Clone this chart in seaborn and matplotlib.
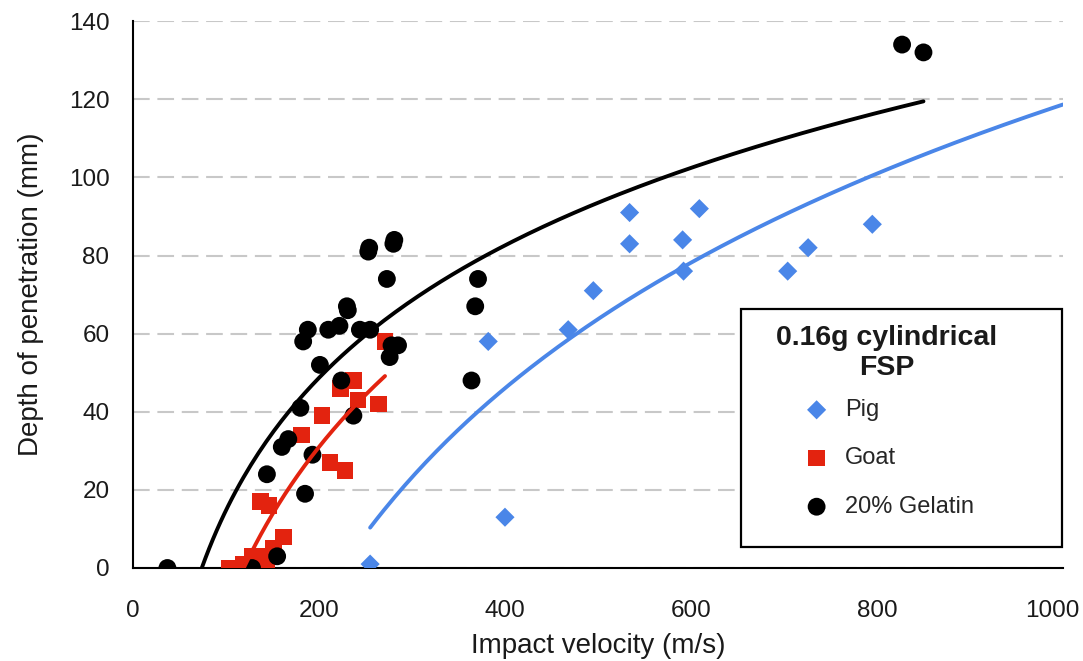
import matplotlib
matplotlib.use("Agg")
import matplotlib.pyplot as plt
import matplotlib.transforms as mtransforms
from matplotlib.patches import Rectangle
import numpy as np
import pandas as pd
import seaborn as sns


# impact velocity (m/s) and depth of penetration (mm)
PIG_V = [255, 400, 382, 468, 495, 534, 534, 591, 592, 609, 704, 726, 795]
PIG_D = [1, 13, 58, 61, 71, 91, 83, 84, 76, 92, 76, 82, 88]

GOAT_V = [104, 112, 119, 129, 128, 137, 144, 151, 162, 137, 146, 181, 203,
          212, 228, 223, 237, 242, 264, 271]
GOAT_D = [0, 0, 1, 1, 3, 3, 2, 5, 8, 17, 16, 34, 39, 27, 25, 46, 48, 43, 42, 58]

GEL_V = [37, 128, 155, 144, 160, 167, 180, 185, 193, 201, 183, 188, 210, 222,
         224, 230, 231, 244, 255, 253, 254, 280, 281, 273, 278, 285, 276, 237,
         371, 368, 364, 827, 850]
GEL_D = [0, 0, 3, 24, 31, 33, 41, 19, 29, 52, 58, 61, 61, 62, 48, 67, 66, 61,
         61, 81, 82, 83, 84, 74, 57, 57, 54, 39, 74, 67, 48, 134, 132]

SERIES = ["Pig", "Goat", "20% Gelatin"]
COLORS = {"Pig": "#4A86E8", "Goat": "#E3230F", "20% Gelatin": "#000000"}
MARKERS = {"Pig": "D", "Goat": "s", "20% Gelatin": "o"}
SIZES = {"Pig": 95, "Goat": 140, "20% Gelatin": 165}
# the pig trend line is extended forward to this velocity
TREND_END = {"Pig": 1000}

X_TICKS = [0, 200, 400, 600, 800, 1000]
Y_TICKS = [0, 20, 40, 60, 80, 100, 120, 140]
LEGEND_TITLE = "0.16g cylindrical\nFSP"


def main() -> None:
    df = pd.concat([
        pd.DataFrame({"v": PIG_V, "d": PIG_D, "tissue": "Pig"}),
        pd.DataFrame({"v": GOAT_V, "d": GOAT_D, "tissue": "Goat"}),
        pd.DataFrame({"v": GEL_V, "d": GEL_D, "tissue": "20% Gelatin"}),
    ], ignore_index=True)

    sns.set_theme(style="white")
    plt.rcParams["font.family"] = ["Liberation Sans", "DejaVu Sans"]

    fig, ax = plt.subplots(figsize=(10.83, 6.61), dpi=100)
    fig.subplots_adjust(left=0.1228, right=0.9815, bottom=0.1407, top=0.968)

    for name in SERIES:
        sub = df[df["tissue"] == name]
        sns.scatterplot(data=sub, x="v", y="d", ax=ax, color=COLORS[name],
                        marker=MARKERS[name], s=SIZES[name], edgecolor="none",
                        label=name, zorder=3)

    # logarithmic trend lines, least squares of depth on ln(velocity)
    for name in SERIES:
        sub = df[df["tissue"] == name]
        a, b = np.polyfit(np.log(sub["v"]), sub["d"], 1)
        xs = np.linspace(sub["v"].min(), TREND_END.get(name, sub["v"].max()), 200)
        ax.plot(xs, a * np.log(xs) + b, color=COLORS[name], lw=2.8, zorder=4)

    ax.set_xlim(0, 1000)
    ax.set_ylim(0, 140)
    ax.set_xticks(X_TICKS)
    ax.set_yticks(Y_TICKS)
    ax.yaxis.grid(True, linestyle=(0, (8, 3.7)), color="#c8c8c8", linewidth=1.5)
    ax.xaxis.grid(False)
    ax.set_axisbelow(True)
    for side in ["top", "right"]:
        ax.spines[side].set_visible(False)
    for side in ["left", "bottom"]:
        ax.spines[side].set_color("black")
        ax.spines[side].set_linewidth(1.5)
    ax.tick_params(axis="both", direction="out", length=5, width=1.3,
                   color="black", labelsize=17.5, labelcolor="#1a1a1a")
    ax.tick_params(axis="y", pad=12)
    ax.tick_params(axis="x", pad=18)
    # last x label pulled in so it stays inside the figure
    last = ax.get_xticklabels()[-1]
    last.set_transform(last.get_transform()
                       + mtransforms.ScaledTranslation(-8 / 72, 0, fig.dpi_scale_trans))

    ax.set_xlabel("Impact velocity (m/s)", fontsize=20, color="#1a1a1a", labelpad=8)
    ax.set_ylabel("Depth of penetration (mm)", fontsize=20, color="#1a1a1a", labelpad=18)

    # legend box: frame, bold title and the entries centred under it
    ax.add_patch(Rectangle((0.654, 0.038), 0.345, 0.4355, transform=ax.transAxes,
                           facecolor="white", edgecolor="black", lw=1.6,
                           zorder=5, clip_on=False))
    ax.text(0.8108, 0.394, LEGEND_TITLE, transform=ax.transAxes, ha="center",
            va="center", multialignment="center", fontsize=20.5,
            fontweight="bold", color="#1a1a1a", linespacing=1.2, zorder=6)
    leg = ax.legend(loc="upper center", bbox_to_anchor=(0.8108, 0.309),
                    frameon=False, fontsize=17, borderpad=0, borderaxespad=0,
                    labelspacing=1.12, handletextpad=0.5, handlelength=1.4)
    leg.set_zorder(6)

    fig.savefig("out.png", dpi=100)
    plt.close(fig)


if __name__ == "__main__":
    main()
